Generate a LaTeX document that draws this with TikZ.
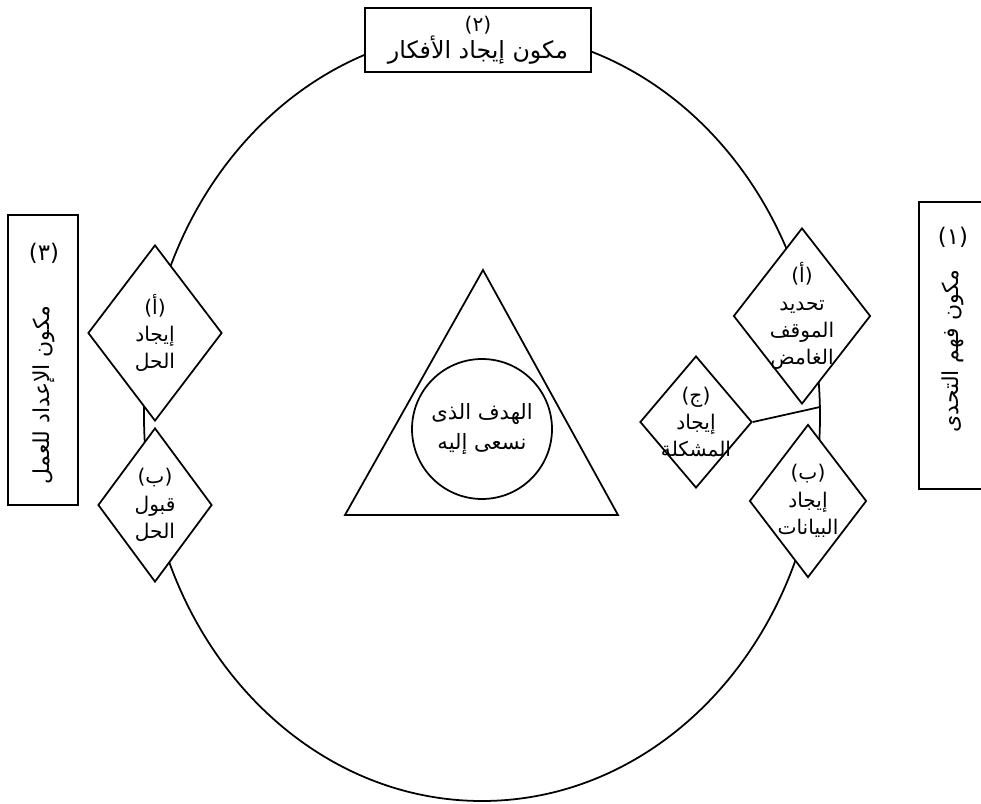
\documentclass[tikz,border=0pt]{standalone}
\usepackage{fontspec}
\usetikzlibrary{shapes.geometric}
\TeXXeTstate=1
\newfontfamily\arabicfont[Script=Arabic]{DejaVu Sans}
\newcommand{\rl}[1]{\beginR #1\endR}

\tikzset{
	stagebox/.style={draw, line width=1.4pt, fill=white, inner sep=0pt},
	partshape/.style={draw, diamond, line width=1pt, fill=white, inner sep=0pt},
	ring/.style={line width=1pt},
	bigtext/.style={font=\arabicfont\fontsize{12.5}{14}\selectfont},
	numtext/.style={font=\arabicfont\fontsize{13}{14}\selectfont},
}

\begin{document}
\begin{tikzpicture}[x=0.02cm, y=-0.02cm, every node/.style={font=\arabicfont\fontsize{11.5}{15.5}\selectfont, align=center}]
	\useasboundingbox (0,0) rectangle (981,804);
	% outer ring and the goal in the middle
	\draw[ring] (482,416) ellipse (338 and 385);
	\draw[ring] (483,270) -- (345,515) -- (618,515) -- cycle;
	\node[draw, circle, ring, minimum size=2.8cm, inner sep=0pt, font=\arabicfont\fontsize{12}{17}\selectfont] (goal) at (482,429) {\rl{الهدف الذى}\\\rl{نسعى إليه}};
	% the three components
	\node[stagebox, minimum width=4.52cm, minimum height=1.28cm, font=\arabicfont\fontsize{13.5}{14}\selectfont] (ideas) at (478,40) {{\fontsize{11.5}{11}\selectfont(٢)}\\\rl{مكون إيجاد الأفكار}};
	\node[stagebox, minimum width=1.4cm, minimum height=5.8cm] (prep) at (43,360) {};
	\node[numtext] (prepnum) at (44,253) {(٣)};
	\node[rotate=90, bigtext] (preptext) at (44,395) {\rl{مكون الإعداد للعمل}};
	\node[stagebox, anchor=north west, minimum width=1.44cm, minimum height=5.74cm] (grasp) at (918,201) {};
	\node[numtext] (graspnum) at (953,237) {(١)};
	\node[rotate=90, bigtext] (grasptext) at (953,351) {\rl{مكون فهم التحدى}};
	% sub-stages
	\node[partshape, minimum width=2.68cm, minimum height=3.52cm, label={center:(أ)\\\rl{إيجاد}\\\rl{الحل}}] (solveA) at (155,333) {};
	\node[partshape, minimum width=2.28cm, minimum height=3.08cm, label={center:(ب)\\\rl{قبول}\\\rl{الحل}}] (solveB) at (155,505) {};
	\node[partshape, minimum width=2.74cm, minimum height=3.52cm, label={center:(أ)\\\rl{تحديد}\\\rl{الموقف}\\\rl{الغامض}}] (graspA) at (802,316) {};
	\node[partshape, minimum width=2.24cm, minimum height=2.64cm, label={center:(ج)\\\rl{إيجاد}\\\rl{المشكلة}}] (graspC) at (696,422) {};
	\node[partshape, minimum width=2.34cm, minimum height=3.06cm, label={center:(ب)\\\rl{إيجاد}\\\rl{البيانات}}] (graspB) at (808,501) {};
	\coordinate (rim) at (820,407);
	\draw[ring] (graspC.east) -- (rim);
\end{tikzpicture}
\end{document}
